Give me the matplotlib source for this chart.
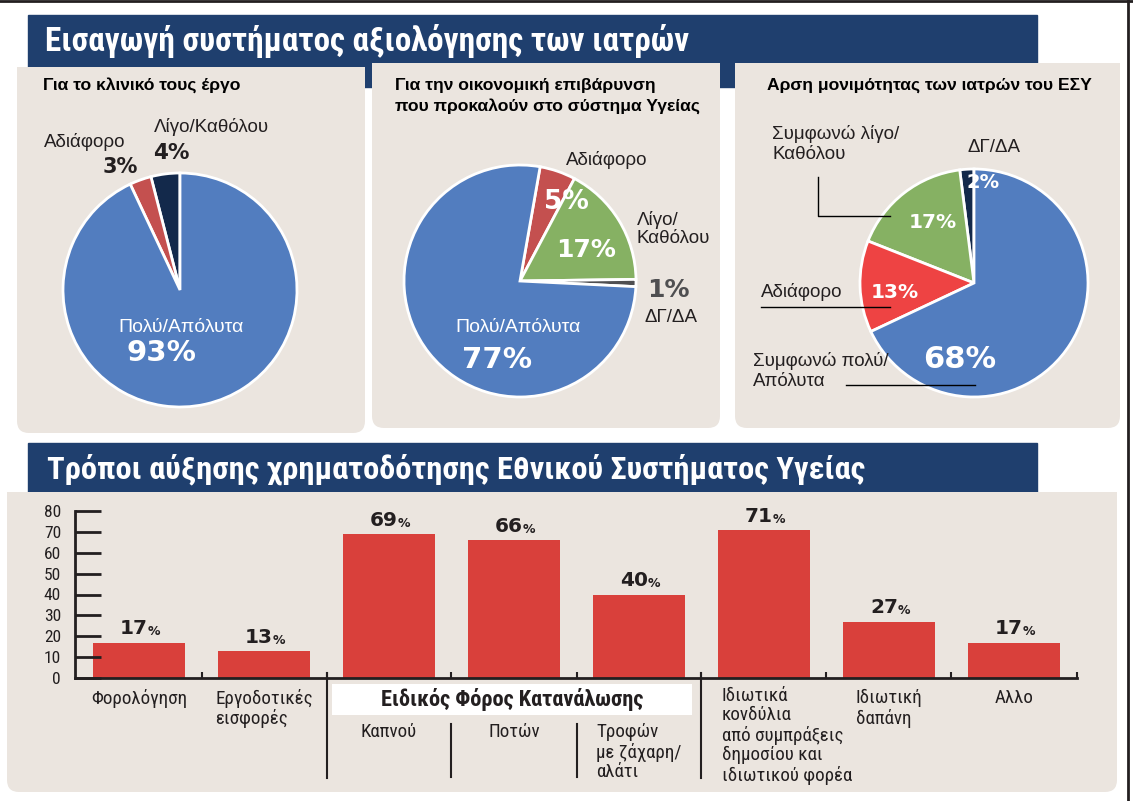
import matplotlib
matplotlib.use('Agg')
import matplotlib.pyplot as plt
from matplotlib import font_manager
from matplotlib.patches import FancyBboxPatch, Rectangle
from matplotlib.transforms import blended_transform_factory

W, H = 1133, 801

# ---- data ----
pie1_values = [4, 3, 93]          # Λίγο/Καθόλου, Αδιάφορο, Πολύ/Απόλυτα
pie2_values = [5, 17, 1, 77]      # Αδιάφορο, Λίγο/Καθόλου, ΔΓ/ΔΑ, Πολύ/Απόλυτα
pie3_values = [2, 17, 13, 68]     # ΔΓ/ΔΑ, Συμφωνώ λίγο, Αδιάφορο, Συμφωνώ πολύ

bar_labels = ['Φορολόγηση', 'Εργοδοτικές\nεισφορές', 'Καπνού', 'Ποτών',
              'Τροφών\nμε ζάχαρη/\nαλάτι',
              'Ιδιωτικά\nκονδύλια\nαπό συμπράξεις\nδημοσίου και\nιδιωτικού φορέα',
              'Ιδιωτική\nδαπάνη', 'Αλλο']
bar_values = [17, 13, 69, 66, 40, 71, 27, 17]
y_ticks = [0, 10, 20, 30, 40, 50, 60, 70, 80]
group_title = 'Ειδικός Φόρος Κατανάλωσης'

title_top = 'Εισαγωγή συστήματος αξιολόγησης των ιατρών'
title_bottom = 'Τρόποι αύξησης χρηματοδότησης Εθνικού Συστήματος Υγείας'

# ---- style ----
NAVY_BANNER = '#1f3f6e'
BEIGE = '#ebe5df'
BLUE = '#527dbf'
RED_DARK = '#c4504f'
RED_BRIGHT = '#ee4343'
GREEN = '#86b163'
NAVY = '#13294b'
GREY = '#4f4f51'
BAR_RED = '#d9403b'
INK = '#231f20'

SANS = 'Liberation Sans'
HEAVY = 'DejaVu Sans'


def pick_condensed():
    # look for an installed condensed face with a bold weight
    found = {}
    for f in font_manager.fontManager.ttflist:
        st = f.stretch
        cond = (isinstance(st, str) and 'condensed' in st and 'extra' not in st
                and 'ultra' not in st) or (isinstance(st, (int, float)) and 250 < st < 500)
        if cond:
            w = f.weight
            bold = (isinstance(w, (int, float)) and w >= 600) or \
                   (isinstance(w, str) and w in ('bold', 'heavy', 'black', 'demibold', 'semibold'))
            found.setdefault(f.name, [st, False, False])
            found[f.name][1 if bold else 2] = True
    for pref in ['Roboto Condensed', 'Open Sans Condensed', 'Liberation Sans Narrow',
                 'Noto Sans', 'DejaVu Sans', 'Open Sans']:
        if pref in found and found[pref][1]:
            return pref, found[pref][0]
    for name, (st, b, r) in found.items():
        if b:
            return name, st
    return SANS, 'normal'


NARROW, STRETCH = pick_condensed()

fig = plt.figure(figsize=(W / 100, H / 100), dpi=100)
fig.patch.set_facecolor('white')
renderer = fig.canvas.get_renderer()


def fit(t, target):
    w = t.get_window_extent(renderer).width
    t.set_fontsize(t.get_fontsize() * target / w)
    return t.get_fontsize()


bg = fig.add_axes([0, 0, 1, 1], zorder=0)
bg.set_xlim(0, W)
bg.set_ylim(H, 0)
bg.axis('off')

fg = fig.add_axes([0, 0, 1, 1], zorder=10)
fg.set_xlim(0, W)
fg.set_ylim(H, 0)
fg.axis('off')
fg.patch.set_alpha(0)

# banners and panels
bg.add_patch(Rectangle((28, 15), 1009, 72, color=NAVY_BANNER))
bg.add_patch(Rectangle((28, 443), 1009, 52, color=NAVY_BANNER))
for x0, y0, x1, y1 in [(17, 67, 365, 433), (372, 63, 720, 428),
                       (735, 63, 1120, 428), (7, 492, 1117, 792)]:
    bg.add_patch(FancyBboxPatch((x0, y0), x1 - x0, y1 - y0,
                                boxstyle='round,pad=0,rounding_size=12',
                                facecolor=BEIGE, edgecolor='none'))
    bg.add_patch(Rectangle((x0, y0), x1 - x0, 20, facecolor=BEIGE, edgecolor='none'))

t1 = fg.text(45, 41, title_top, color='white', fontsize=24, fontweight='bold',
             family=NARROW, fontstretch=STRETCH, va='center', ha='left')
t2 = fg.text(47, 469, title_bottom, color='white', fontsize=24, fontweight='bold',
             family=NARROW, fontstretch=STRETCH, va='center', ha='left')
fit(t1, 645)
fit(t2, 818)

# frame lines
fg.plot([0, W], [1, 1], color=INK, lw=2)
fg.plot([1128, 1128], [0, H], color=INK, lw=2)

# panel titles
pt = fg.text(43, 85, 'Για το κλινικό τους έργο', fontsize=12, fontweight='bold',
             family=SANS, color='black', va='center')
ts = fit(pt, 197)
fg.text(395, 96, 'Για την οικονομική επιβάρυνση\nπου προκαλούν στο σύστημα Υγείας',
        fontsize=ts, fontweight='bold', family=SANS, color='black',
        va='center', linespacing=1.45)
fg.text(767, 85, 'Αρση μονιμότητας των ιατρών του ΕΣΥ', fontsize=ts,
        fontweight='bold', family=SANS, color='black', va='center')


def pie_axes(cx, cy, r):
    pad = 3
    ax = fig.add_axes([(cx - r - pad) / W, 1 - (cy + r + pad) / H,
                       2 * (r + pad) / W, 2 * (r + pad) / H], zorder=5)
    return ax, (r + pad) / r


wp = dict(edgecolor='white', linewidth=2)

# pie 1
ax1, lim = pie_axes(180, 290, 117)
ax1.pie(pie1_values, colors=[NAVY, RED_DARK, BLUE], startangle=90,
        counterclock=True, wedgeprops=wp)
ax1.set_xlim(-lim, lim)
ax1.set_ylim(-lim, lim)

# pie 2
ax2, lim = pie_axes(520, 281, 116)
ax2.pie(pie2_values, colors=[RED_DARK, GREEN, GREY, BLUE], startangle=80,
        counterclock=False, wedgeprops=wp)
ax2.set_xlim(-lim, lim)
ax2.set_ylim(-lim, lim)

# pie 3
ax3, lim = pie_axes(974, 283, 114)
ax3.pie(pie3_values, colors=[NAVY, GREEN, RED_BRIGHT, BLUE], startangle=90,
        counterclock=True, wedgeprops=wp)
ax3.set_xlim(-lim, lim)
ax3.set_ylim(-lim, lim)


def lab(x, y, s, size=13.5, color=INK, ha='center', **kw):
    fg.text(x, y, s, fontsize=size, color=color, family=SANS, ha=ha,
            va='center', **kw)


def pct(x, y, v, size, color='white'):
    fg.text(x, y, f'{v}%', fontsize=size, color=color, family=HEAVY,
            fontweight='bold', ha='center', va='center')


# pie 1 labels
lab(85, 142, 'Αδιάφορο')
pct(120, 167, pie1_values[1], 15, INK)
lab(211, 127, 'Λίγο/Καθόλου')
pct(171, 153, pie1_values[0], 15.5, INK)
lab(181, 327, 'Πολύ/Απόλυτα', color='white', size=14)
pct(161, 353, pie1_values[2], 21)

# pie 2 labels
lab(607, 160, 'Αδιάφορο')
pct(566, 202, pie2_values[0], 19)
lab(637, 229, 'Λίγο/\nΚαθόλου', ha='left', linespacing=1.15)
pct(586, 250, pie2_values[1], 18)
pct(668, 290, pie2_values[2], 18, GREY)
lab(671, 317, 'ΔΓ/ΔΑ')
lab(518, 327, 'Πολύ/Απόλυτα', color='white', size=14)
pct(497, 360, pie2_values[3], 21)

# pie 3 labels
lab(772, 144, 'Συμφωνώ λίγο/\nΚαθόλου', ha='left', linespacing=1.2)
lab(967, 148, 'ΔΓ/ΔΑ', ha='left')
pct(983, 182, pie3_values[0], 14)
pct(933, 222, pie3_values[1], 14.5)
lab(761, 292, 'Αδιάφορο', ha='left')
pct(895, 292, pie3_values[2], 14.5)
lab(753, 371, 'Συμφωνώ πολύ/\nΑπόλυτα', ha='left', linespacing=1.2)
pct(960, 360, pie3_values[3], 22)

fg.plot([818, 818, 890], [177, 216, 216], color='black', lw=1)
fg.plot([761, 890], [307, 307], color='black', lw=1)
fg.plot([846, 975], [385, 385], color='black', lw=1)

# ---- bar chart ----
x0_px, x1_px, ytop_px, ybot_px = 75, 1076.5, 511, 678
ax = fig.add_axes([x0_px / W, 1 - ybot_px / H, (x1_px - x0_px) / W,
                   (ybot_px - ytop_px) / H], zorder=6)
ax.patch.set_alpha(0)
xs = list(range(len(bar_values)))
bw = 0.736
ax.bar(xs, bar_values, width=bw, color=BAR_RED)
ax.set_xlim(-0.512, 7.5)
ax.set_ylim(0, 80)
for s in ['top', 'right']:
    ax.spines[s].set_visible(False)
for s in ['left', 'bottom']:
    ax.spines[s].set_linewidth(2)
    ax.spines[s].set_color(INK)
ax.set_yticks(y_ticks)
ax.tick_params(axis='y', direction='in', length=19, width=2, color=INK,
               labelsize=12.5, labelcolor=INK, pad=10)
for t in ax.get_yticklabels():
    t.set_family(NARROW)
    t.set_fontstretch(STRETCH)
ax.set_xticks([i + 0.5 for i in xs])
ax.set_xticklabels([])
ax.tick_params(axis='x', direction='in', length=4, width=1.5, color=INK)

for i, v in zip(xs, bar_values):
    ax.annotate(f'{v}', (i, v), xytext=(6.5, 3), textcoords='offset points',
                ha='right', va='bottom', fontsize=14.5, fontweight='bold',
                family=HEAVY, color=INK)
    ax.annotate('%', (i, v), xytext=(6.5, 3), textcoords='offset points',
                ha='left', va='bottom', fontsize=9, fontweight='bold',
                family=HEAVY, color=INK)

bt = blended_transform_factory(ax.transData, fg.transData)
probe = fg.text(0, 0, 'Φορολόγηση', fontsize=12, family=NARROW, fontstretch=STRETCH)
lsize = fit(probe, 87) * 1.1
probe.remove()

label_top = [689, 689, 723, 723, 723, 687, 689, 689]
for i, (s, yt) in enumerate(zip(bar_labels, label_top)):
    if i == 5:
        xl, ha = i - bw / 2 + 0.03, 'left'
    else:
        xl, ha = i, 'center'
    ax.text(xl, yt, s, transform=bt, ha=ha, va='top', multialignment='left',
            fontsize=lsize, family=NARROW, fontstretch=STRETCH, color=INK,
            linespacing=1.1, clip_on=False)

ax.add_patch(Rectangle((1.544, 684), 2.88, 31, transform=bt, facecolor='white',
                       edgecolor='none', clip_on=False, zorder=3))
gt = ax.text(2.984, 699.5, group_title, transform=bt, ha='center', va='center',
             fontsize=15, fontweight='bold', family=NARROW, fontstretch=STRETCH,
             color=INK, zorder=4, clip_on=False)
fit(gt, 263)
for xb in [1.5, 4.5]:
    ax.plot([xb, xb], [673, 778], transform=bt, color=INK, lw=1.5, clip_on=False)
for xb in [2.5, 3.5]:
    ax.plot([xb, xb], [724, 777], transform=bt, color=INK, lw=1.5, clip_on=False)

fig.savefig('out.png', dpi=100, facecolor='white')
